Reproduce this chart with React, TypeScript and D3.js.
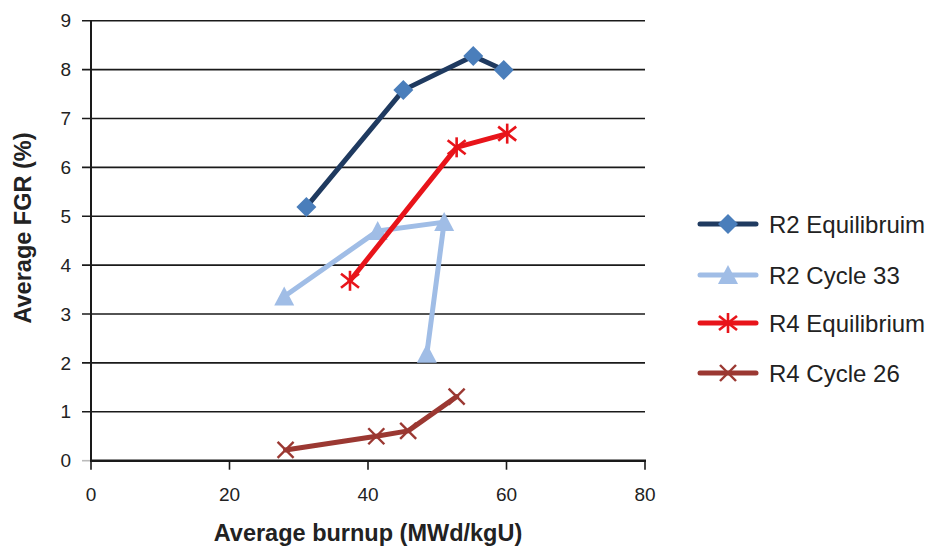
import React from "react";
import * as d3 from "d3";

const seriesNames = ["R2 Equilibruim", "R2 Cycle 33", "R4 Equilibrium", "R4 Cycle 26"];
const r2EqX = [31.1, 45.1, 55.2, 59.6];
const r2EqY = [5.19, 7.58, 8.28, 7.99];
const r2C33X = [27.9, 41.4, 51.0, 48.5];
const r2C33Y = [3.36, 4.7, 4.88, 2.19];
const r4EqX = [37.4, 52.8, 60.1];
const r4EqY = [3.68, 6.41, 6.69];
const r4C26X = [28.1, 41.2, 45.8, 52.8];
const r4C26Y = [0.22, 0.5, 0.61, 1.31];
const xTicks = [0, 20, 40, 60, 80];
const yTicks = [0, 1, 2, 3, 4, 5, 6, 7, 8, 9];

const W = 929, H = 548;
const L = 91, R = 645, T = 20.7, B = 460.7;
const FONT = "'Liberation Sans', Arial, sans-serif";

type Marker = "diamond" | "triangle" | "star" | "x";
const styles: { line: string; fill: string; marker: Marker }[] = [
  { line: "#1f3a60", fill: "#4a7ebb", marker: "diamond" },
  { line: "#a0bde6", fill: "#a0bde6", marker: "triangle" },
  { line: "#e8141a", fill: "#e8141a", marker: "star" },
  { line: "#9b3832", fill: "#9b3832", marker: "x" },
];

function MarkerShape({ kind, x, y, color }: { kind: Marker; x: number; y: number; color: string }) {
  if (kind === "diamond") {
    const s = 10;
    return <path d={`M${x},${y - s}L${x + s},${y}L${x},${y + s}L${x - s},${y}Z`} fill={color} />;
  }
  if (kind === "triangle") {
    const s = 10;
    return <path d={`M${x},${y - s}L${x + s},${y + 9}L${x - s},${y + 9}Z`} fill={color} />;
  }
  if (kind === "star") {
    const s = 9;
    return (
      <g stroke={color} strokeWidth={2.6}>
        <line x1={x} y1={y - 10} x2={x} y2={y + 10} />
        <line x1={x - s} y1={y - 7} x2={x + s} y2={y + 7} />
        <line x1={x - s} y1={y + 7} x2={x + s} y2={y - 7} />
      </g>
    );
  }
  const s = 8;
  return (
    <g stroke={color} strokeWidth={2.4}>
      <line x1={x - s} y1={y - s} x2={x + s} y2={y + s} />
      <line x1={x - s} y1={y + s} x2={x + s} y2={y - s} />
    </g>
  );
}

export default function App() {
  const x = d3.scaleLinear().domain([0, 80]).range([L, R]);
  const y = d3.scaleLinear().domain([0, 9]).range([B, T]);
  const data = [
    r2EqX.map((v, i) => [v, r2EqY[i]]),
    r2C33X.map((v, i) => [v, r2C33Y[i]]),
    r4EqX.map((v, i) => [v, r4EqY[i]]),
    r4C26X.map((v, i) => [v, r4C26Y[i]]),
  ] as [number, number][][];
  const line = d3.line<[number, number]>().x((d) => x(d[0])).y((d) => y(d[1]));
  const legendY = [224, 275, 323, 373];

  return (
    <svg width={W} height={H} style={{ position: "absolute", left: 0, top: 0, background: "#fff" }} fontFamily={FONT}>
      {yTicks.map((t) => (
        <g key={t}>
          <line x1={82} x2={t === 0 ? L : R} y1={y(t)} y2={y(t)} stroke={t === 0 ? "#bbb" : "#1a1a1a"} strokeWidth={1.6} />
          <text x={71} y={y(t)} dy="0.35em" textAnchor="end" fontSize={19} fill="#222">{t}</text>
        </g>
      ))}
      <line x1={L} x2={L} y1={T} y2={B} stroke="#1a1a1a" strokeWidth={2} />
      <line x1={L - 1} x2={R + 1} y1={B} y2={B} stroke="#1a1a1a" strokeWidth={2.6} />
      {xTicks.map((t) => (
        <g key={t}>
          <line x1={x(t)} x2={x(t)} y1={B} y2={B + 9} stroke="#1a1a1a" strokeWidth={1.6} />
          <text x={x(t)} y={501} textAnchor="middle" fontSize={19} fill="#222">{t}</text>
        </g>
      ))}
      <text x={(L + R) / 2} y={541} textAnchor="middle" fontSize={23.5} fontWeight="bold" fill="#222">Average burnup (MWd/kgU)</text>
      <text transform={`translate(31,228) rotate(-90)`} textAnchor="middle" fontSize={23.5} fontWeight="bold" fill="#222">Average FGR (%)</text>
      {data.map((pts, i) => (
        <g key={i}>
          <path d={line(pts) || ""} fill="none" stroke={styles[i].line} strokeWidth={5} strokeLinejoin="round" strokeLinecap="round" />
          {pts.map((p, j) => (
            <MarkerShape key={j} kind={styles[i].marker} x={x(p[0])} y={y(p[1])} color={styles[i].fill} />
          ))}
        </g>
      ))}
      {seriesNames.map((name, i) => (
        <g key={name}>
          <line x1={700} x2={756} y1={legendY[i]} y2={legendY[i]} stroke={styles[i].line} strokeWidth={5} strokeLinecap="round" />
          <MarkerShape kind={styles[i].marker} x={728} y={legendY[i]} color={styles[i].fill} />
          <text x={769} y={legendY[i]} dy="0.36em" fontSize={24} fill="#222">{name}</text>
        </g>
      ))}
    </svg>
  );
}
